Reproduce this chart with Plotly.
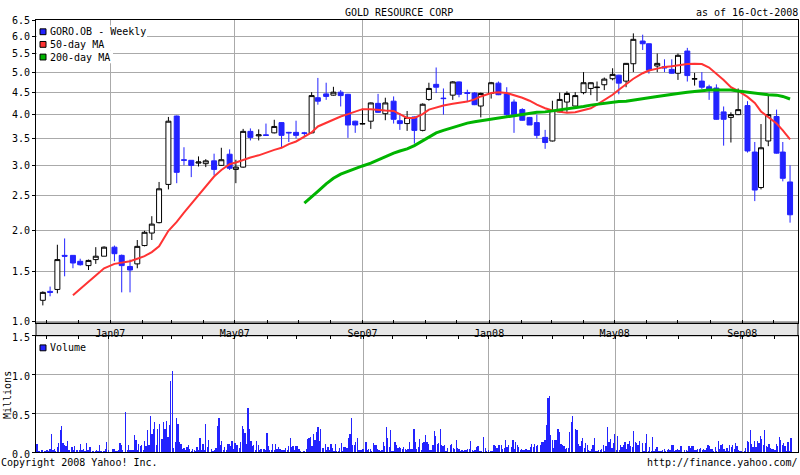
import numpy as np
import pandas as pd
import plotly.graph_objects as go

# ---------------- data ----------------
week_dates = [
    "2006-10-28", "2006-11-04", "2006-11-11", "2006-11-18", "2006-11-26", "2006-12-03", "2006-12-11", "2006-12-18", "2006-12-26", "2007-01-05",
    "2007-01-12", "2007-01-20", "2007-01-27", "2007-02-03", "2007-02-10", "2007-02-17", "2007-02-26", "2007-03-06", "2007-03-13", "2007-03-20",
    "2007-03-27", "2007-04-03", "2007-04-11", "2007-04-18", "2007-04-26", "2007-05-02", "2007-05-09", "2007-05-16", "2007-05-24", "2007-05-31",
    "2007-06-08", "2007-06-15", "2007-06-22", "2007-06-29", "2007-07-07", "2007-07-14", "2007-07-20", "2007-07-28", "2007-08-04", "2007-08-11",
    "2007-08-18", "2007-08-25", "2007-09-01", "2007-09-09", "2007-09-16", "2007-09-23", "2007-10-01", "2007-10-07", "2007-10-14", "2007-10-21",
    "2007-10-29", "2007-11-04", "2007-11-11", "2007-11-18", "2007-11-27", "2007-12-03", "2007-12-11", "2007-12-18", "2007-12-24", "2008-01-03",
    "2008-01-10", "2008-01-18", "2008-01-25", "2008-02-02", "2008-02-09", "2008-02-16", "2008-02-24", "2008-03-02", "2008-03-09", "2008-03-16",
    "2008-03-24", "2008-04-01", "2008-04-08", "2008-04-14", "2008-04-21", "2008-04-29", "2008-05-05", "2008-05-12", "2008-05-19", "2008-05-28",
    "2008-06-03", "2008-06-11", "2008-06-18", "2008-06-25", "2008-07-01", "2008-07-10", "2008-07-17", "2008-07-24", "2008-07-31", "2008-08-07",
    "2008-08-14", "2008-08-21", "2008-08-28", "2008-09-06", "2008-09-13", "2008-09-19", "2008-09-26", "2008-10-04", "2008-10-10", "2008-10-17",
]

open_ = [
    1.20, 1.29, 1.31, 1.69, 1.69, 1.62, 1.57, 1.64, 1.68, 1.79,
    1.69, 1.56, 1.59, 1.81, 1.97, 2.11, 2.68, 3.96, 3.10, 3.09,
    3.04, 3.03, 3.08, 3.00, 3.20, 2.93, 2.97, 3.64, 3.55, 3.57,
    3.61, 3.82, 3.62, 3.62, 3.61, 3.61, 4.37, 4.46, 4.43, 4.50,
    4.45, 3.85, 3.79, 3.85, 4.24, 4.01, 4.29, 3.86, 3.80, 3.94,
    3.66, 4.33, 4.69, 4.36, 4.43, 4.75, 4.49, 4.48, 4.18, 4.47,
    4.72, 4.46, 4.27, 4.10, 3.93, 3.82, 3.52, 3.45, 4.05, 4.27,
    4.18, 4.49, 4.59, 4.61, 4.68, 4.83, 4.92, 4.77, 5.22, 5.86,
    5.78, 5.16, 5.14, 5.07, 4.97, 5.57, 4.82, 4.77, 4.63, 4.60,
    4.05, 3.93, 3.99, 4.19, 3.24, 2.63, 3.45, 3.95, 3.24, 2.72,
]
high = [
    1.29, 1.34, 1.82, 1.90, 1.69, 1.65, 1.64, 1.79, 1.80, 1.81,
    1.70, 1.64, 1.88, 2.00, 2.20, 2.72, 3.94, 3.97, 3.33, 3.09,
    3.16, 3.11, 3.21, 3.32, 3.29, 3.10, 3.69, 3.70, 3.68, 3.80,
    3.88, 3.83, 3.63, 3.86, 3.63, 4.50, 4.85, 4.73, 4.63, 4.55,
    4.46, 3.86, 4.12, 4.26, 4.46, 4.37, 4.40, 4.02, 4.07, 3.95,
    4.24, 4.73, 5.12, 4.59, 4.77, 4.76, 4.56, 4.50, 4.49, 4.75,
    4.76, 4.62, 4.33, 4.13, 3.94, 3.99, 3.67, 4.30, 4.49, 4.52,
    4.50, 5.00, 4.74, 4.76, 4.86, 5.10, 4.93, 5.24, 6.09, 6.05,
    5.79, 5.50, 5.34, 5.34, 5.50, 5.66, 4.98, 5.00, 4.68, 4.69,
    4.17, 4.04, 4.59, 4.29, 3.43, 3.79, 4.42, 4.10, 3.43, 3.00,
]
low = [
    1.15, 1.24, 1.27, 1.45, 1.54, 1.57, 1.52, 1.59, 1.68, 1.62,
    1.28, 1.28, 1.54, 1.80, 1.88, 2.10, 2.60, 2.70, 3.00, 2.80,
    2.98, 2.97, 2.83, 2.99, 2.92, 2.70, 2.96, 3.46, 3.46, 3.55,
    3.60, 3.32, 3.43, 3.50, 3.55, 3.60, 4.21, 4.32, 4.42, 4.17,
    3.51, 3.61, 3.78, 3.69, 4.03, 3.87, 3.80, 3.67, 3.65, 3.40,
    3.64, 4.30, 4.48, 3.99, 4.32, 4.38, 4.27, 4.20, 3.93, 4.35,
    4.43, 3.92, 3.61, 3.86, 3.77, 3.50, 3.30, 3.44, 4.04, 4.05,
    4.17, 4.45, 4.43, 4.29, 4.55, 4.79, 4.45, 4.62, 5.00, 5.60,
    4.96, 5.00, 5.00, 4.96, 4.80, 4.76, 4.66, 4.58, 4.32, 3.88,
    3.36, 3.42, 3.98, 3.23, 2.42, 2.60, 3.35, 3.21, 2.73, 2.11,
]
close = [
    1.28, 1.28, 1.64, 1.68, 1.60, 1.58, 1.63, 1.68, 1.79, 1.71,
    1.57, 1.52, 1.80, 1.98, 2.09, 2.61, 3.85, 2.88, 3.09, 3.00,
    3.06, 3.08, 2.93, 3.10, 2.95, 2.97, 3.64, 3.52, 3.57, 3.56,
    3.74, 3.56, 3.61, 3.56, 3.60, 4.42, 4.29, 4.40, 4.50, 4.42,
    3.77, 3.77, 3.80, 4.25, 4.04, 4.25, 3.89, 3.80, 3.93, 3.66,
    4.22, 4.59, 4.62, 4.35, 4.75, 4.45, 4.47, 4.21, 4.47, 4.73,
    4.44, 3.99, 3.99, 3.87, 3.77, 3.56, 3.42, 4.08, 4.33, 4.47,
    4.42, 4.73, 4.73, 4.62, 4.82, 4.94, 4.72, 5.23, 5.91, 5.78,
    5.05, 5.23, 5.11, 4.97, 5.45, 4.91, 4.83, 4.62, 4.56, 3.89,
    3.89, 3.99, 4.10, 3.26, 2.59, 3.32, 3.99, 3.22, 2.78, 2.22,
]

ma50 = [None] * 4 + [
    1.25, 1.31, 1.39, 1.46, 1.54, 1.59, 1.60, 1.62, 1.65, 1.68,
    1.73, 1.80, 2.00, 2.12, 2.25, 2.38, 2.52, 2.66, 2.81, 2.92,
    3.02, 3.05, 3.10, 3.14, 3.18, 3.23, 3.28, 3.32, 3.39, 3.44,
    3.53, 3.62, 3.74, 3.82, 3.88, 3.95, 4.00, 4.06, 4.11, 4.11,
    4.09, 4.08, 4.07, 4.00, 3.92, 3.92, 4.00, 4.10, 4.15, 4.19,
    4.23, 4.25, 4.28, 4.33, 4.40, 4.48, 4.50, 4.48, 4.43, 4.37,
    4.30, 4.21, 4.13, 4.08, 4.05, 4.03, 4.04, 4.08, 4.13, 4.21,
    4.31, 4.44, 4.56, 4.69, 4.83, 4.97, 5.04, 5.09, 5.13, 5.15,
    5.18, 5.21, 5.22, 5.21, 5.12, 4.97, 4.80, 4.62, 4.53, 4.39,
    4.25, 4.06, 3.94, 3.80, 3.66, 3.48,
]
ma200 = [None] * 34 + [
    2.39, 2.48, 2.57, 2.69, 2.78, 2.85, 2.90, 2.95, 2.99, 3.04,
    3.10, 3.15, 3.22, 3.26, 3.30, 3.36, 3.46, 3.53, 3.61, 3.66,
    3.72, 3.77, 3.81, 3.84, 3.86, 3.89, 3.92, 3.95, 3.97, 4.00,
    4.02, 4.04, 4.05, 4.07, 4.09, 4.11, 4.14, 4.17, 4.20, 4.22,
    4.25, 4.27, 4.28, 4.29, 4.31, 4.34, 4.37, 4.40, 4.43, 4.45,
    4.47, 4.50, 4.52, 4.54, 4.55, 4.55, 4.55, 4.55, 4.53, 4.50,
    4.47, 4.45, 4.44, 4.43, 4.40, 4.34,
]

# daily volume (millions), trading days from 2006-10-23 to 2008-10-16
vol_part1 = [
    0.11, 0.01, 0.02, 0.04, 0.04, 0.01, 0.02, 0.03, 0.01, 0.05,
    0.24, 0.03, 0.05, 0.02, 0.07, 0.13, 0.29, 0.34, 0.12, 0.10,
    0.08, 0.15, 0.03, 0.075, 0.03, 0.09, 0.03, 0.04, 0.03,
    0.11, 0.04, 0.05, 0.02, 0.125, 0.03, 0.075, 0.075, 0.02, 0.01,
    0.02, 0.03, 0.02, 0.10, 0.02, 0.01, 0.05, 0.14, 0.03,
    0.05, 0.05, 0.02, 0.02, 0.04, 0.125, 0.10, 0.03,
    0.525, 0.04, 0.10, 0.03, 0.04, 0.03, 0.225, 0.16, 0.04,
    0.11, 0.09, 0.10, 0.04, 0.15, 0.08, 0.29, 0.10, 0.475, 0.24,
    0.30, 0.39, 0.10, 0.30, 0.375, 0.175, 0.40, 0.31, 0.41,
    0.20, 0.35, 0.925, 1.05, 0.06, 0.14, 0.44, 0.375, 0.14, 0.11,
    0.05, 0.06, 0.03, 0.075, 0.10, 0.05, 0.02, 0.05, 0.03, 0.02,
    0.075, 0.04, 0.19, 0.04, 0.11, 0.03, 0.375, 0.075, 0.16,
    0.05, 0.02, 0.03, 0.06, 0.34, 0.45, 0.10, 0.15, 0.04, 0.075,
    0.04, 0.11, 0.11, 0.09, 0.15, 0.05, 0.125, 0.10, 0.10, 0.06,
    0.14, 0.34, 0.30, 0.25, 0.11, 0.575, 0.30, 0.15, 0.09, 0.10,
    0.04, 0.15, 0.10, 0.04, 0.05, 0.05, 0.03, 0.25, 0.09,
    0.04, 0.03, 0.11, 0.04, 0.11, 0.05, 0.075, 0.05, 0.04, 0.04,
    0.03, 0.06, 0.03, 0.09, 0.19,
]
vol_part2 = [
    0.075, 0.09, 0.03, 0.09, 0.09, 0.05, 0.025, 0.0125, 0.02, 0.05,
    0.175, 0.19, 0.20, 0.09, 0.24, 0.16, 0.26, 0.325, 0.15, 0.30,
    0.06, 0.06, 0.11, 0.04, 0.075, 0.04, 0.11, 0.06, 0.025, 0.11,
    0.025, 0.025, 0.06, 0.125, 0.025, 0.075, 0.075, 0.06, 0.19, 0.24,
    0.45, 0.10, 0.10, 0.14, 0.19, 0.04, 0.04, 0.04, 0.05, 0.14,
    0.04, 0.05, 0.05, 0.025, 0.125, 0.10, 0.10, 0.05, 0.04, 0.025,
    0.04, 0.14, 0.09, 0.325, 0.19, 0.075, 0.29, 0.025, 0.025, 0.14,
    0.10, 0.06, 0.075, 0.06, 0.05, 0.075, 0.05, 0.04, 0.05, 0.14,
    0.05, 0.05, 0.31, 0.14, 0.05, 0.075, 0.175, 0.04, 0.125, 0.14,
    0.225, 0.14, 0.11, 0.04, 0.04, 0.10, 0.275, 0.21, 0.11, 0.125,
    0.30, 0.10, 0.09, 0.10, 0.025, 0.06, 0.10, 0.11, 0.06, 0.05,
    0.16, 0.06, 0.05, 0.0125, 0.04, 0.025, 0.04, 0.04, 0.05, 0.05,
    0.15, 0.04, 0.025, 0.04, 0.075, 0.09, 0.0125, 0.0125, 0.20, 0.06,
    0.025, 0.04, 0.025, 0.025, 0.10, 0.09, 0.06, 0.10, 0.10, 0.10,
    0.05, 0.06, 0.16, 0.075, 0.10, 0.075, 0.16, 0.05, 0.14, 0.10,
    0.075, 0.04, 0.05, 0.04, 0.04, 0.05, 0.04, 0.04, 0.075, 0.11,
    0.075, 0.11, 0.09, 0.10, 0.10, 0.14, 0.14, 0.16,
]
vol_part3 = [
    0.35, 0.70, 0.725, 0.225, 0.16, 0.06, 0.16, 0.16, 0.30, 0.26,
    0.11, 0.10, 0.09, 0.05, 0.06, 0.06, 0.26, 0.40, 0.475, 0.30,
    0.29, 0.11, 0.09, 0.15, 0.19, 0.06, 0.125, 0.10, 0.04, 0.025,
    0.05, 0.10, 0.19, 0.025, 0.025, 0.04, 0.04, 0.05, 0.10, 0.025,
    0.09, 0.325, 0.14, 0.175, 0.06, 0.125, 0.24, 0.04, 0.21, 0.04,
    0.10, 0.075, 0.10, 0.14, 0.05, 0.11, 0.15, 0.09, 0.075, 0.275,
    0.14, 0.125, 0.10, 0.15, 0.125, 0.025, 0.125, 0.24, 0.025, 0.075,
    0.025, 0.20, 0.025, 0.05, 0.075, 0.025, 0.025, 0.025, 0.04, 0.05,
    0.025, 0.04, 0.05, 0.04, 0.10, 0.10, 0.025, 0.04, 0.05, 0.04,
    0.09, 0.09, 0.04, 0.04, 0.025, 0.09, 0.06, 0.09, 0.09, 0.04,
    0.04, 0.05, 0.05, 0.06, 0.04, 0.05, 0.04, 0.06, 0.10, 0.09,
    0.05, 0.05, 0.0125, 0.075, 0.025, 0.15, 0.05, 0.10, 0.11, 0.05,
    0.025, 0.06, 0.025, 0.10, 0.075, 0.10, 0.05, 0.125, 0.09, 0.04,
    0.0125, 0.0125, 0.025, 0.06, 0.15, 0.14, 0.29, 0.11, 0.075, 0.15,
    0.075, 0.15, 0.125, 0.21, 0.175, 0.10, 0.29, 0.09, 0.075, 0.11,
    0.06, 0.05, 0.05, 0.04, 0.11, 0.09, 0.20, 0.16, 0.10, 0.125,
    0.09, 0.025, 0.14, 0.025, 0.19,
]
market_holidays = [
    "2006-11-23", "2006-12-25", "2007-01-01", "2007-01-02", "2007-01-15", "2007-02-19",
    "2007-04-06", "2007-05-28", "2007-07-04", "2007-09-03", "2007-11-22", "2007-12-25",
    "2008-01-01", "2008-01-21", "2008-02-18", "2008-03-21", "2008-05-26", "2008-07-04",
    "2008-09-01",
]
price_ticks = [1.0, 1.5, 2.0, 2.5, 3.0, 3.5, 4.0, 4.5, 5.0, 5.5, 6.0, 6.5]
volume_ticks = [0.0, 0.5, 1.0, 1.5]

# ---------------- styling / helpers ----------------
W, H = 800, 475
FONT = "DejaVu Sans Mono"
BLUE = "#2323ff"
RED = "#ff3333"
GREEN = "#00b400"
GRID = "#aaaaaa"
OFFSET = 1.15          # price scale used by the chart: log(price + OFFSET)


def tf(vals):
    return [None if v is None else float(np.log(v + OFFSET)) for v in vals]


def px(x):
    return x / W


def py(y):
    return 1 - y / H


L, R = 36, 798
P_TOP, P_BOT = 15, 327
V_TOP, V_BOT = 340, 460

trading_days = pd.bdate_range("2006-10-23", "2008-10-16")
trading_days = trading_days[~trading_days.isin(pd.to_datetime(market_holidays))]
volume = vol_part1 + vol_part2 + vol_part3
n = min(len(trading_days), len(volume))
vol_x = trading_days[:n] + pd.Timedelta(hours=12)

fig = go.Figure()
fig.add_trace(go.Candlestick(
    x=week_dates, open=tf(open_), high=tf(high), low=tf(low), close=tf(close),
    increasing=dict(line=dict(color="black", width=1), fillcolor="white"),
    decreasing=dict(line=dict(color=BLUE, width=1), fillcolor=BLUE),
    whiskerwidth=0, showlegend=False, hoverinfo="skip", xaxis="x", yaxis="y"))
fig.add_trace(go.Scatter(x=week_dates, y=tf(ma50), mode="lines",
                         line=dict(color=RED, width=2), showlegend=False,
                         hoverinfo="skip", xaxis="x", yaxis="y"))
fig.add_trace(go.Scatter(x=week_dates, y=tf(ma200), mode="lines",
                         line=dict(color=GREEN, width=3), showlegend=False,
                         hoverinfo="skip", xaxis="x", yaxis="y"))
fig.add_trace(go.Bar(x=vol_x, y=volume[:n], width=0.2 * 86400000,
                     marker=dict(color=BLUE, line=dict(width=0)),
                     showlegend=False, hoverinfo="skip", xaxis="x2", yaxis="y2"))

tickfont = dict(family=FONT, size=10, color="black")
common_x = dict(
    tickmode="linear", tick0="2007-01-01", dtick="M4", tickformat="%b%y",
    ticks="inside", ticklen=3, tickcolor="black",
    showgrid=True, gridcolor=GRID, gridwidth=1,
    showline=True, linecolor="black", linewidth=1, mirror=True,
    minor=dict(tick0="2006-11-01", dtick="M1", ticks="inside", ticklen=3,
               tickcolor="black", showgrid=False),
    tickfont=tickfont, zeroline=False,
)
fig.update_layout(
    width=W, height=H, autosize=False,
    margin=dict(l=0, r=0, t=0, b=0),
    paper_bgcolor="white", plot_bgcolor="white",
    hovermode=False, showlegend=False, bargap=0,
    boxgap=0.2, boxgroupgap=0,
    font=dict(family=FONT, size=10, color="black"),
    xaxis=dict(domain=[px(L), px(R)], anchor="y", type="date",
               range=["2006-10-21 09:50", "2008-10-24 15:36"],
               rangeslider=dict(visible=False), ticklabelstandoff=1, **common_x),
    yaxis=dict(domain=[py(P_BOT), py(P_TOP)], anchor="x",
               range=[0.7585, 2.0377], tickmode="array",
               tickvals=tf(price_ticks), ticktext=[f"{v:.1f}" for v in price_ticks],
               ticks="outside", ticklen=3, tickcolor="black",
               showgrid=True, gridcolor=GRID, showline=True, linecolor="black",
               mirror=True, zeroline=False, tickfont=tickfont),
    xaxis2=dict(domain=[px(L), px(R)], anchor="y2", type="date", side="top",
                range=["2006-10-20 20:38", "2008-10-23 08:10"],
                rangebreaks=[dict(bounds=["sat", "mon"])],
                showticklabels=False, **common_x),
    yaxis2=dict(domain=[py(V_BOT), py(V_TOP)], anchor="x2",
                range=[0, 1.5], tickmode="array", tickvals=volume_ticks,
                ticktext=[f"{v:.1f}" for v in volume_ticks],
                ticks="outside", ticklen=3, tickcolor="black", ticklabelshift=2,
                showgrid=True, gridcolor=GRID, showline=True, linecolor="black",
                mirror=True, zeroline=False, tickfont=tickfont),
)

shapes = [
    # grey date band between the two panels
    dict(type="rect", xref="paper", yref="paper", x0=px(L), x1=px(R),
         y0=py(V_TOP), y1=py(P_BOT), fillcolor="#e6e6e6",
         line=dict(color="black", width=1), layer="below"),
]
legend_rows = [("GORO.OB - Weekly", BLUE, 27.5, 147),
               ("50-day MA", RED, 40.5, 111),
               ("200-day MA", GREEN, 53.5, 113)]
for text, col, yc, xr in legend_rows:
    shapes.append(dict(type="rect", xref="paper", yref="paper",
                       x0=px(L + 1), x1=px(xr), y0=py(yc + 6.5), y1=py(yc - 6.5),
                       fillcolor="white", line=dict(width=0), layer="above"))
for text, col, yc, xr in legend_rows + [("Volume", BLUE, 352.5, 0)]:
    shapes.append(dict(type="rect", xref="paper", yref="paper",
                       x0=px(40), x1=px(46), y0=py(yc + 3), y1=py(yc - 3),
                       fillcolor=col, line=dict(color="black", width=1), layer="above"))
fig.update_layout(shapes=shapes)

ann = []
for text, col, yc, xr in legend_rows + [("Volume", BLUE, 352.5, 0)]:
    ann.append(dict(text=text, x=px(49), y=py(yc), xanchor="left", yanchor="middle"))
ann += [
    dict(text="GOLD RESOURCE CORP", x=px(399), y=py(7.3), xanchor="center", yanchor="middle"),
    dict(text="as of 16-Oct-2008", x=px(799), y=py(7.3), xanchor="right", yanchor="middle"),
    dict(text="Copyright 2008 Yahoo! Inc.", x=px(0), y=py(470), xanchor="left", yanchor="middle"),
    dict(text="http://finance.yahoo.com/", x=px(798.5), y=py(470), xanchor="right", yanchor="middle"),
    dict(text="Millions", x=px(7.5), y=py(401.5), xanchor="center", yanchor="middle", textangle=-90),
]
for a in ann:
    a.update(xref="paper", yref="paper", showarrow=False, borderpad=0,
             font=dict(family=FONT, size=10, color="black"))
fig.update_layout(annotations=ann)

# the page's default body margin would shift the 800x475 figure; remove it
fig.write_html("out.html",
               config={"displayModeBar": False, "staticPlot": False},
               post_script="document.body.style.margin='0';document.body.style.overflow='hidden';")
